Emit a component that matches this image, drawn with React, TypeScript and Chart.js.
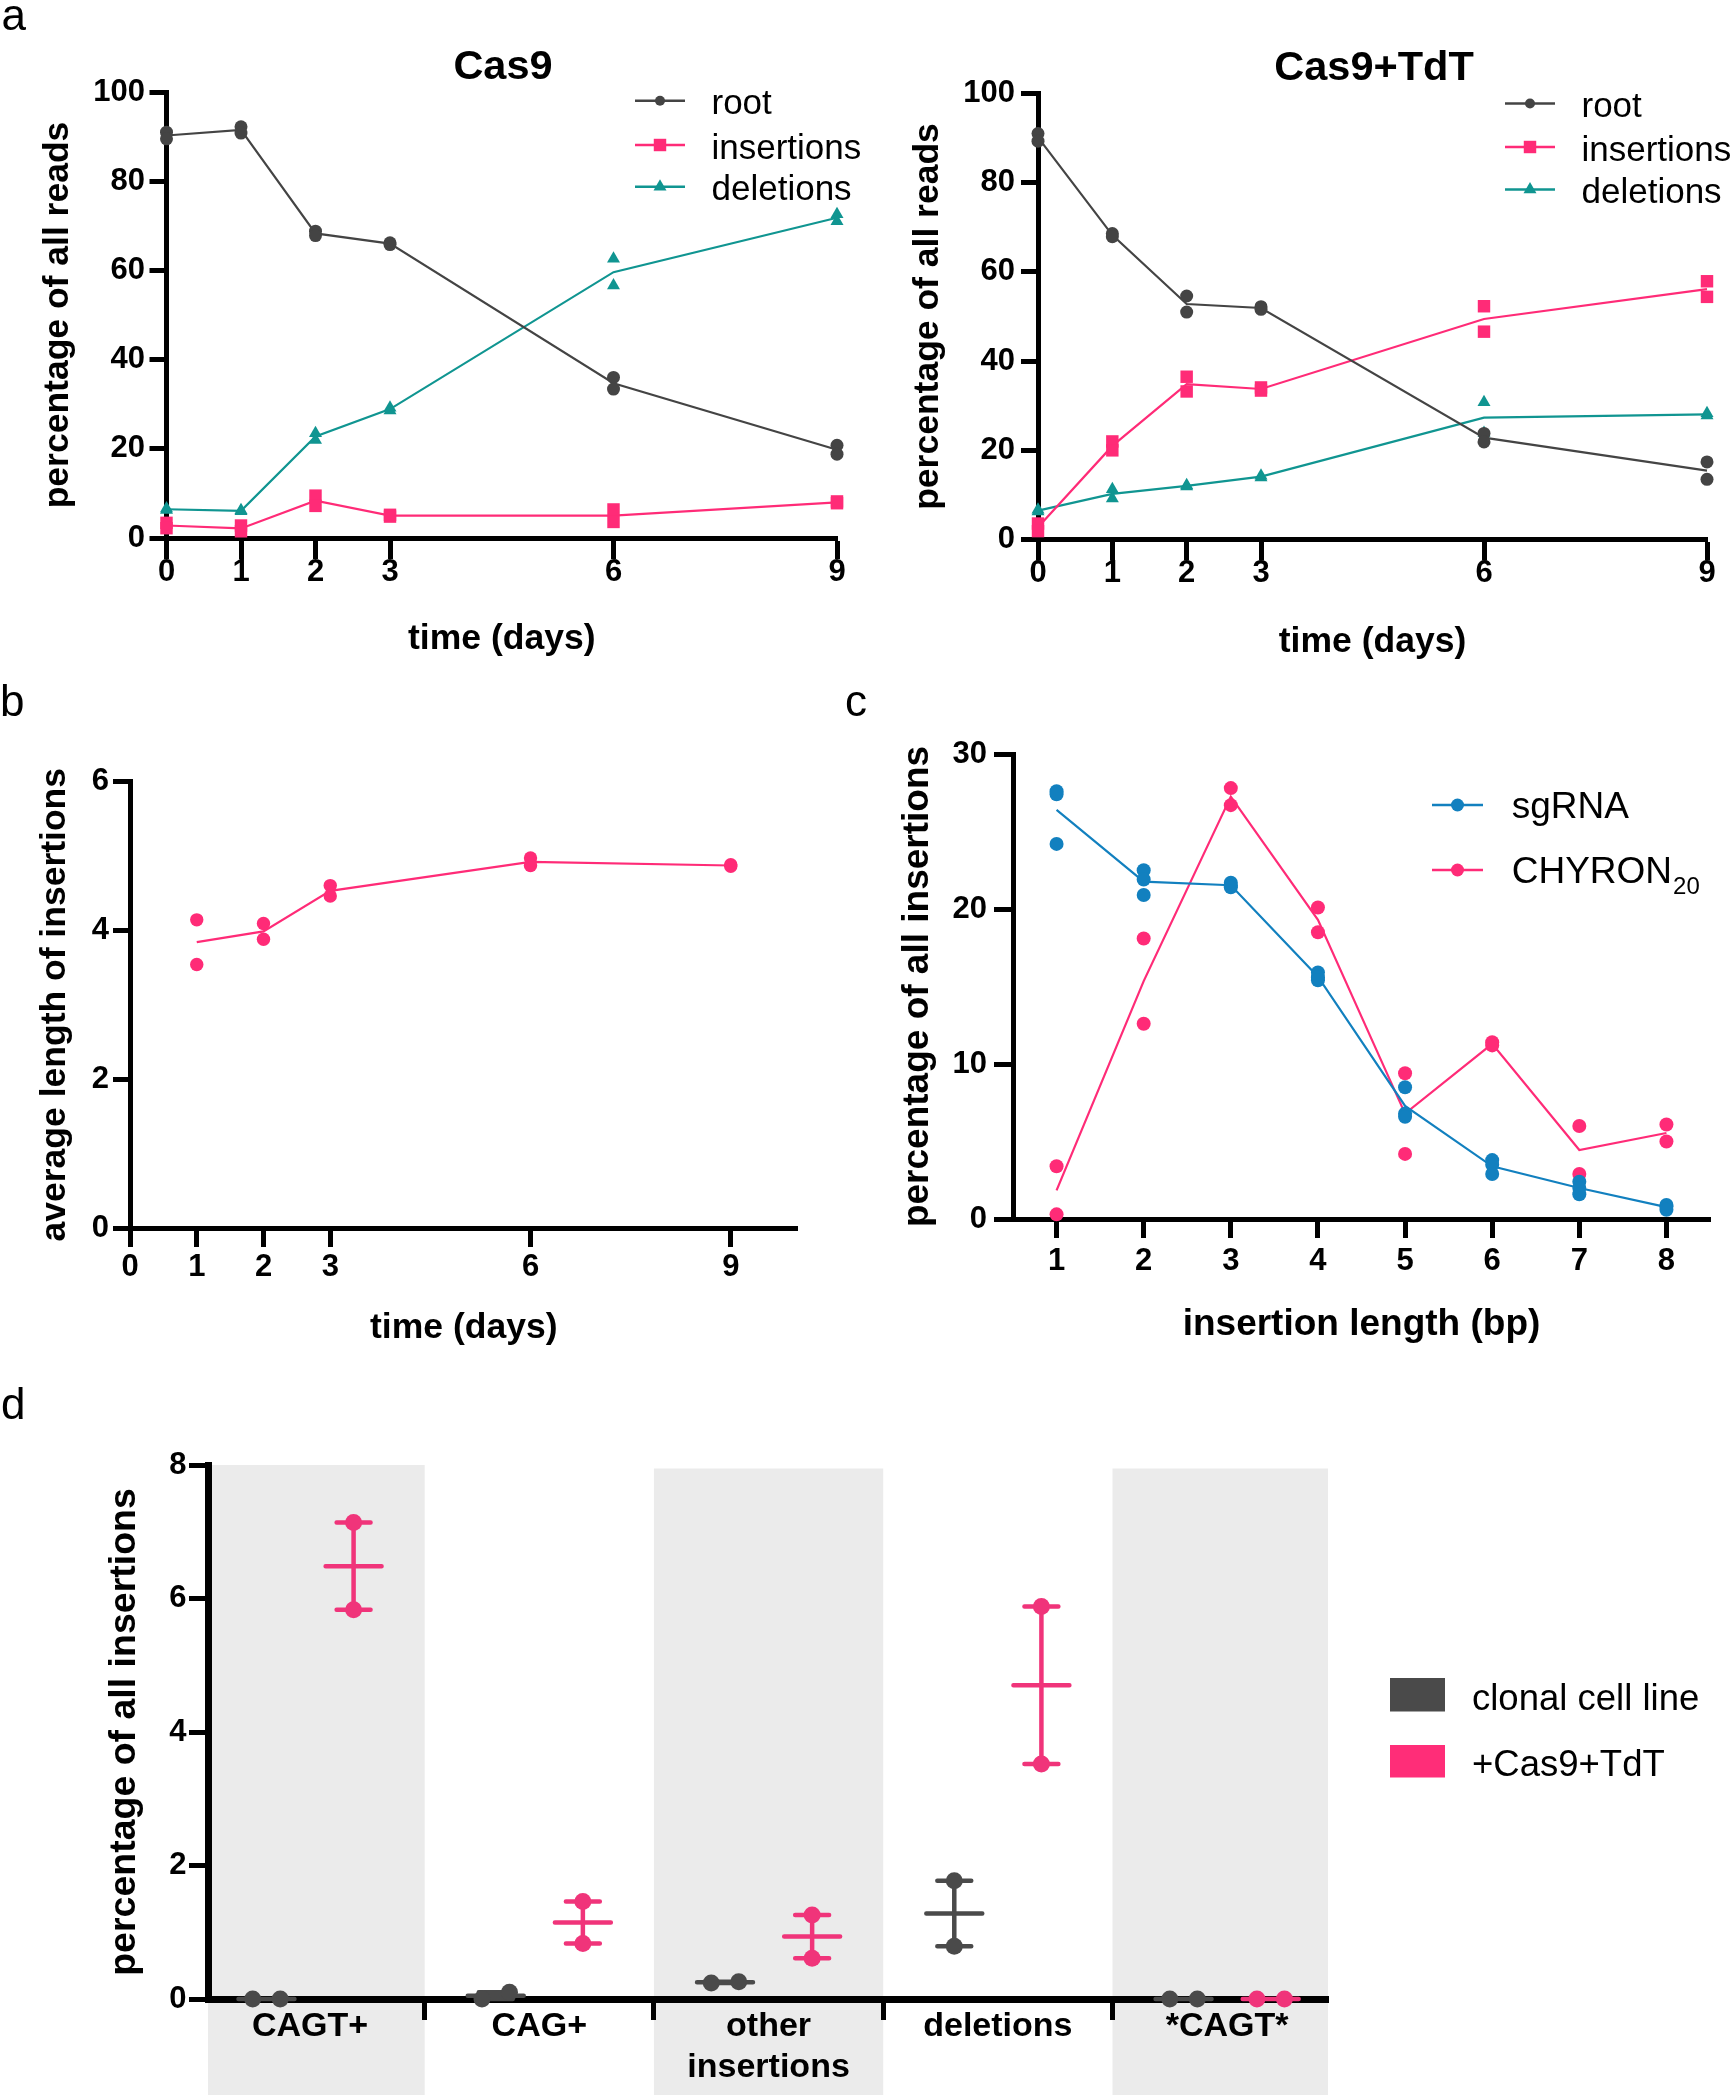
import React, { useEffect, useRef } from 'react';
import { Chart, registerables } from 'chart.js';

Chart.register(...registerables);

const FONT = "'Liberation Sans', Arial, Helvetica, sans-serif";

const C_GRAY = '#444444';
const C_PINK = '#FF2B77';
const C_TEAL = '#109591';
const C_BLUE = '#1280BF';
const D_GRAY = '#4A4A4A';
const D_PINK = '#F0347A';
const BAND = '#EBEBEB';

// ---------------- panel a ----------------
const aDays = [0, 1, 2, 3, 6, 9];
const aYTicks = [0, 20, 40, 60, 80, 100];
const aSeriesNames = ['root', 'insertions', 'deletions'];
const cas9Root = [[91.0, 89.5], [92.2, 90.8], [68.8, 67.8], [66.2, 65.8], [36.0, 33.4], [20.8, 18.8]];
const cas9Ins = [[3.4, 2.2], [2.8, 1.5], [9.5, 7.2], [5.2, 4.8], [6.4, 3.6], [8.2, 7.8]];
const cas9Del = [[6.6, 6.3], [6.2, 6.0], [23.5, 22.0], [29.2, 28.6], [62.6, 56.6], [72.6, 71.0]];
const tdtRoot = [[91.0, 89.3], [68.6, 67.9], [54.6, 51.0], [52.2, 51.6], [23.8, 21.9], [17.4, 13.5]];
const tdtIns = [[3.6, 1.9], [22.0, 20.0], [36.5, 33.2], [34.1, 33.4], [52.3, 46.6], [57.9, 54.4]];
const tdtDel = [[6.7, 6.3], [11.3, 9.2], [12.2, 11.9], [14.3, 13.9], [30.8, 23.9], [28.3, 27.8]];

// ---------------- panel b ----------------
const bDays = [1, 2, 3, 6, 9];
const bXTicks = [0, 1, 2, 3, 6, 9];
const bYTicks = [0, 2, 4, 6];
const bAvgLen = [[4.14, 3.54], [4.09, 3.88], [4.6, 4.46], [4.97, 4.87], [4.88, 4.86]];

// ---------------- panel c ----------------
const cLengths = [1, 2, 3, 4, 5, 6, 7, 8];
const cYTicks = [0, 10, 20, 30];
const cSgRNA = [
  [27.6, 27.4, 24.2], [22.5, 21.9, 20.9], [21.7, 21.5, 21.4], [15.9, 15.6, 15.4],
  [8.5, 6.8, 6.6], [3.8, 3.5, 2.9], [2.4, 2.0, 1.6], [0.9, 0.8, 0.6],
];
const cChyron = [
  [3.4, 0.3], [18.1, 12.6], [27.8, 26.7], [20.1, 18.5],
  [9.4, 4.2], [11.4, 11.2], [6.0, 2.9], [6.1, 5.0],
];

// ---------------- panel d ----------------
const dCategories: (string | string[])[] = ['CAGT+', 'CAG+', ['other', 'insertions'], 'deletions', '*CAGT*'];
const dYTicks = [0, 2, 4, 6, 8];
const dClonal = [[0, 0], [0, 0.1], [0.24, 0.26], [1.77, 0.79], [0, 0]];
const dTdT = [[7.14, 5.83], [1.46, 0.83], [1.26, 0.61], [5.88, 3.52], [0, 0]];
const dLegendNames = ['clonal cell line', '+Cas9+TdT'];
const dShaded = [0, 2, 4];

// ---------------- helpers ----------------
const mean = (a: number[]) => a.reduce((s, v) => s + v, 0) / a.length;
const repPoints = (xs: number[], reps: number[][]) => xs.flatMap((x, i) => reps[i].map((y) => ({ x, y })));
const meanPoints = (xs: number[], reps: number[][]) => xs.map((x, i) => ({ x, y: mean(reps[i]) }));

function series(xs: number[], reps: number[][], color: string, style: string, r: number) {
  return [
    {
      type: 'line', data: repPoints(xs, reps), showLine: false, pointStyle: style, pointRadius: r,
      pointBackgroundColor: color, pointBorderColor: color, pointBorderWidth: 0, clip: false,
    },
    {
      type: 'line', data: meanPoints(xs, reps), borderColor: color, borderWidth: 2.2,
      pointRadius: 0, tension: 0, fill: false, clip: false,
    },
  ];
}

function font(size: number, bold = false) {
  return `${bold ? 'bold ' : ''}${size}px ${FONT}`;
}

function drawMarker(ctx: CanvasRenderingContext2D, style: string, x: number, y: number, r: number) {
  ctx.beginPath();
  if (style === 'circle') ctx.arc(x, y, r, 0, Math.PI * 2);
  else if (style === 'rect') {
    const s = r * Math.SQRT1_2;
    ctx.rect(x - s, y - s, 2 * s, 2 * s);
  } else if (style === 'triangle') {
    ctx.moveTo(x, y - r);
    ctx.lineTo(x + 0.866 * r, y + 0.5 * r);
    ctx.lineTo(x - 0.866 * r, y + 0.5 * r);
    ctx.closePath();
  }
  ctx.fill();
}

const overlayPlugin = {
  id: 'overlay',
  beforeDraw(chart: any, _a: any, opts: any) {
    const b = opts.bands;
    if (!b) return;
    const { ctx, chartArea, scales } = chart;
    ctx.save();
    ctx.fillStyle = b.color;
    b.items.forEach((k: number, i: number) => {
      const l = Math.max(chartArea.left, scales.x.getPixelForValue(k - 0.5));
      const r = Math.min(chartArea.right, scales.x.getPixelForValue(k + 0.5));
      const t = scales.y.getPixelForValue(b.top) + (i === 0 ? 0 : 3.5);
      ctx.fillRect(l, t, r - l, chart.height - b.bottomGap - t);
    });
    ctx.restore();
  },
  afterDraw(chart: any, _a: any, opts: any) {
    const ctx: CanvasRenderingContext2D = chart.ctx;
    ctx.save();
    (opts.texts || []).forEach((t: any) => {
      ctx.font = t.font;
      ctx.fillStyle = t.color || '#000';
      ctx.textAlign = t.align || 'left';
      ctx.textBaseline = 'alphabetic';
      ctx.fillText(t.text, t.x, t.y);
    });
    (opts.lineLegend || []).forEach((it: any) => {
      ctx.strokeStyle = it.color;
      ctx.lineWidth = 2.4;
      ctx.beginPath();
      ctx.moveTo(it.x1, it.y);
      ctx.lineTo(it.x2, it.y);
      ctx.stroke();
      ctx.fillStyle = it.color;
      drawMarker(ctx, it.style, (it.x1 + it.x2) / 2, it.y, it.r);
      ctx.fillStyle = '#000';
      ctx.font = it.font;
      ctx.textAlign = 'left';
      ctx.textBaseline = 'alphabetic';
      ctx.fillText(it.text, it.tx, it.y + it.dy);
      if (it.sub) {
        const w = ctx.measureText(it.text).width;
        ctx.font = it.subFont;
        ctx.fillText(it.sub, it.tx + w + 1, it.y + it.dy + it.subDy);
      }
    });
    (opts.boxLegend || []).forEach((it: any) => {
      ctx.fillStyle = it.color;
      ctx.fillRect(it.x, it.y, it.w, it.h);
      ctx.fillStyle = '#000';
      ctx.font = it.font;
      ctx.textAlign = 'left';
      ctx.textBaseline = 'alphabetic';
      ctx.fillText(it.text, it.tx, it.ty);
    });
    ctx.restore();
  },
};

interface AxisOpt {
  min: number; max: number; ticks: number[]; size: number; tl: number; pad: number; fs: number; bw: number;
  tw?: number; title?: string; tfs?: number; tpad?: number; label?: (v: number) => any; tickColor?: any;
}

function yAxis(o: AxisOpt) {
  return {
    type: 'linear', position: 'left', min: o.min, max: o.max,
    afterBuildTicks: (s: any) => { s.ticks = o.ticks.map((v) => ({ value: v })); },
    afterFit: (s: any) => { s.width = o.size; },
    ticks: {
      autoSkip: false, maxRotation: 0, minRotation: 0, padding: o.pad, color: '#000',
      font: { family: FONT, size: o.fs, weight: 'bold' }, callback: (v: number) => String(v),
    },
    grid: { display: true, drawOnChartArea: false, drawTicks: true, tickLength: o.tl, tickWidth: o.tw ?? o.bw, tickColor: '#000' },
    border: { display: true, color: '#000', width: o.bw },
    title: o.title
      ? { display: true, text: o.title, color: '#000', font: { family: FONT, size: o.tfs, weight: 'bold' }, padding: { top: o.tpad, bottom: 0 } }
      : { display: false },
  };
}

function xAxis(o: AxisOpt) {
  return {
    type: 'linear', position: 'bottom', min: o.min, max: o.max,
    afterBuildTicks: (s: any) => { s.ticks = o.ticks.map((v) => ({ value: v })); },
    afterFit: (s: any) => { s.height = o.size; },
    ticks: {
      autoSkip: false, maxRotation: 0, minRotation: 0, padding: o.pad, color: '#000',
      font: { family: FONT, size: o.fs, weight: 'bold', lineHeight: 1.2 },
      callback: o.label || ((v: number) => String(v)),
    },
    grid: {
      display: true, drawOnChartArea: false, drawTicks: true, tickLength: o.tl, tickWidth: o.tw ?? o.bw,
      tickColor: o.tickColor || '#000',
    },
    border: { display: true, color: '#000', width: o.bw },
    title: o.title
      ? { display: true, text: o.title, color: '#000', font: { family: FONT, size: o.tfs, weight: 'bold' }, padding: { top: 0, bottom: o.tpad } }
      : { display: false },
  };
}

function baseOptions(padding: any, scales: any, overlay: any) {
  return {
    responsive: false,
    maintainAspectRatio: false,
    animation: false,
    devicePixelRatio: 1,
    events: [],
    layout: { padding },
    scales,
    plugins: { legend: { display: false }, tooltip: { enabled: false }, title: { display: false }, overlay },
  };
}

const aStyles = ['circle', 'rect', 'triangle'];
const aColors = [C_GRAY, C_PINK, C_TEAL];
const aRadii = [5, 8.8, 7.5];

function aLegend(rows: number[]) {
  return aSeriesNames.map((name, i) => ({
    text: name, color: aColors[i], style: aStyles[i], r: aRadii[i], x1: 635, x2: 685, y: rows[i], tx: 711.5, dy: 13.5,
    font: font(35),
  }));
}

// geometry: canvas-relative chart area (L, R, T, B) within canvas (cw x ch)
function panelA(title: string, letter: string | null, root: number[][], ins: number[][], del: number[][], g: any) {
  return {
    type: 'line',
    data: {
      datasets: [
        ...series(aDays, root, C_GRAY, 'circle', 6.5),
        ...series(aDays, ins, C_PINK, 'rect', 8.8),
        ...series(aDays, del, C_TEAL, 'triangle', 7.5),
      ],
    },
    options: baseOptions(
      { left: 0, top: g.T, right: g.cw - g.R, bottom: 0 },
      {
        x: xAxis({ min: 0, max: 9, ticks: aDays, size: g.ch - g.B, tl: 21, pad: -5.3, fs: 31, bw: 5, title: 'time (days)', tfs: 35.5, tpad: g.xtp }),
        y: yAxis({ min: 0, max: 100, ticks: aYTicks, size: g.L, tl: 17, pad: g.ypad, fs: 31, bw: 5, title: 'percentage of all reads', tfs: 35.5, tpad: 36.7 }),
      },
      {
        texts: [
          { text: title, x: g.titleX, y: g.titleY, font: font(41.5, true), align: 'center' },
          ...(letter ? [{ text: letter, x: 1.5, y: 30, font: font(44) }] : []),
        ],
        lineLegend: aLegend(g.rows),
      },
    ),
    plugins: [overlayPlugin],
  };
}

const makeCas9 = () =>
  panelA('Cas9', 'a', cas9Root, cas9Ins, cas9Del, {
    cw: 870, ch: 700, L: 166.5, R: 837, T: 92, B: 538, xtp: 39.7, ypad: 4.5, titleX: 503, titleY: 78.5, rows: [100.7, 145, 186.7],
  });

const makeTdT = () =>
  panelA('Cas9+TdT', null, tdtRoot, tdtIns, tdtDel, {
    cw: 863, ch: 700, L: 168, R: 837, T: 93.4, B: 539.6, xtp: 36.7, ypad: 6, titleX: 504, titleY: 80, rows: [103.5, 147, 189.5],
  });

const makeB = () => {
  const g = { cw: 890, ch: 720, L: 130, R: 797.5, T: 121.4, B: 568 };
  return {
    type: 'line',
    data: { datasets: [...series(bDays, bAvgLen, C_PINK, 'circle', 6.7)] },
    options: baseOptions(
      { left: 0, top: g.T, right: g.cw - g.R, bottom: 0 },
      {
        x: xAxis({ min: 0, max: 10, ticks: bXTicks, size: g.ch - g.B, tl: 19, pad: 1.4, fs: 31, bw: 5, title: 'time (days)', tfs: 35.5, tpad: 30.7 }),
        y: yAxis({ min: 0, max: 6, ticks: bYTicks, size: g.L, tl: 17, pad: 4, fs: 31, bw: 5, title: 'average length of insertions', tfs: 35.5, tpad: 34.2 }),
      },
      {
        texts: [
          { text: 'b', x: 0, y: 56, font: font(44) },
          { text: 'c', x: 845, y: 56, font: font(44) },
        ],
      },
    ),
    plugins: [overlayPlugin],
  };
};

const makeC = () => {
  const g = { cw: 873, ch: 720, L: 153, R: 850, T: 94, B: 559 };
  return {
    type: 'line',
    data: {
      datasets: [
        ...series(cLengths, cSgRNA, C_BLUE, 'circle', 7),
        ...series(cLengths, cChyron, C_PINK, 'circle', 7),
      ],
    },
    options: baseOptions(
      { left: 0, top: g.T, right: g.cw - g.R, bottom: 0 },
      {
        x: xAxis({ min: 0.5, max: 8.5, ticks: cLengths, size: g.ch - g.B, tl: 19, pad: 4.9, fs: 31, bw: 5, title: 'insertion length (bp)', tfs: 37, tpad: 32.8 }),
        y: yAxis({ min: 0, max: 30, ticks: cYTicks, size: g.L, tl: 19, pad: 7, fs: 31, bw: 5, title: 'percentage of all insertions', tfs: 37, tpad: 35.8 }),
      },
      {
        lineLegend: [
          { text: 'sgRNA', color: C_BLUE, style: 'circle', r: 6.5, x1: 572, x2: 623, y: 145, tx: 651.7, dy: 13, font: font(37) },
          {
            text: 'CHYRON', sub: '20', subFont: font(24), subDy: 11, color: C_PINK, style: 'circle', r: 6.5,
            x1: 572, x2: 623, y: 210, tx: 651.7, dy: 13, font: font(37),
          },
        ],
      },
    ),
    plugins: [overlayPlugin],
  };
};

const D_OFF = 0.19;
const D_JIT = 0.06;
const D_MEAN_HW = 0.122;
const D_CAP_HW = 0.074;

function dPoints(groups: number[][], off: number) {
  return groups.flatMap((vals, k) => {
    const cx = k + off;
    const close = Math.abs(vals[0] - vals[1]) < 0.35;
    return vals.map((y, j) => ({ x: close ? cx + (j === 0 ? -D_JIT : D_JIT) : cx, y }));
  });
}

function dBars(groups: number[][], off: number) {
  const pts: { x: number; y: number | null }[] = [];
  groups.forEach((vals, k) => {
    const cx = k + off;
    const m = mean(vals);
    const lo = Math.min(...vals);
    const hi = Math.max(...vals);
    pts.push({ x: cx - D_MEAN_HW, y: m }, { x: cx + D_MEAN_HW, y: m }, { x: cx, y: null });
    pts.push({ x: cx - D_CAP_HW, y: lo }, { x: cx + D_CAP_HW, y: lo }, { x: cx, y: null });
    pts.push({ x: cx - D_CAP_HW, y: hi }, { x: cx + D_CAP_HW, y: hi }, { x: cx, y: null });
    if (hi > lo) pts.push({ x: cx, y: lo }, { x: cx, y: hi }, { x: cx, y: null });
  });
  return pts;
}

function dGroup(groups: number[][], off: number, color: string) {
  return [
    {
      type: 'line', data: dPoints(groups, off), showLine: false, pointStyle: 'circle', pointRadius: 8.5,
      pointBackgroundColor: color, pointBorderWidth: 0, clip: false,
    },
    {
      type: 'line', data: dBars(groups, off), borderColor: color, borderWidth: 4.5, borderCapStyle: 'round',
      spanGaps: false, pointRadius: 0, tension: 0, fill: false, clip: false,
    },
  ];
}

const makeD = () => {
  const g = { cw: 1733, ch: 720, L: 208, R: 1328, T: 85, B: 619 };
  const xTicks = [0, 0.5, 1, 1.5, 2, 2.5, 3, 3.5, 4];
  return {
    type: 'line',
    data: { datasets: [...dGroup(dTdT, D_OFF, D_PINK), ...dGroup(dClonal, -D_OFF, D_GRAY)] },
    options: baseOptions(
      { left: 0, top: g.T, right: g.cw - g.R, bottom: 0 },
      {
        x: xAxis({
          min: -0.445, max: 4.44, ticks: xTicks, size: g.ch - g.B, tl: 21, pad: -13.4, fs: 34, bw: 7, tw: 5,
          label: (v: number) => (Number.isInteger(v) ? dCategories[v] : ''),
          tickColor: (c: any) => (c.tick && Number.isInteger(c.tick.value) ? 'rgba(0,0,0,0)' : '#000'),
        }),
        y: yAxis({ min: 0, max: 8, ticks: dYTicks, size: g.L, tl: 19, pad: 2.5, fs: 31, bw: 7, tw: 5, title: 'percentage of all insertions', tfs: 37.5, tpad: 102.5 }),
      },
      {
        bands: { items: dShaded, color: BAND, top: 8, bottomGap: 5 },
        texts: [{ text: 'd', x: 1, y: 39, font: font(44) }],
        boxLegend: [
          { text: dLegendNames[0], color: D_GRAY, x: 1390, y: 298, w: 55, h: 33.5, tx: 1472, ty: 329.5, font: font(36.5) },
          { text: dLegendNames[1], color: '#FF2D78', x: 1390, y: 365, w: 55, h: 32.5, tx: 1472, ty: 395.5, font: font(36.5) },
        ],
      },
    ),
    plugins: [overlayPlugin],
  };
};

function ChartPanel({ x, y, w, h, make }: { x: number; y: number; w: number; h: number; make: () => any }) {
  const ref = useRef<HTMLCanvasElement | null>(null);
  useEffect(() => {
    if (!ref.current) return;
    const chart = new Chart(ref.current, make());
    return () => chart.destroy();
  }, [make]);
  return (
    <canvas
      ref={ref}
      width={w}
      height={h}
      style={{ position: 'absolute', left: x, top: y, width: w, height: h }}
    />
  );
}

export default function App() {
  return (
    <div style={{ position: 'absolute', left: 0, top: 0, width: 1733, height: 2100, background: '#fff', overflow: 'hidden' }}>
      <ChartPanel x={0} y={0} w={870} h={700} make={makeCas9} />
      <ChartPanel x={870} y={0} w={863} h={700} make={makeTdT} />
      <ChartPanel x={0} y={660} w={890} h={720} make={makeB} />
      <ChartPanel x={860} y={660} w={873} h={720} make={makeC} />
      <ChartPanel x={0} y={1380} w={1733} h={720} make={makeD} />
    </div>
  );
}
